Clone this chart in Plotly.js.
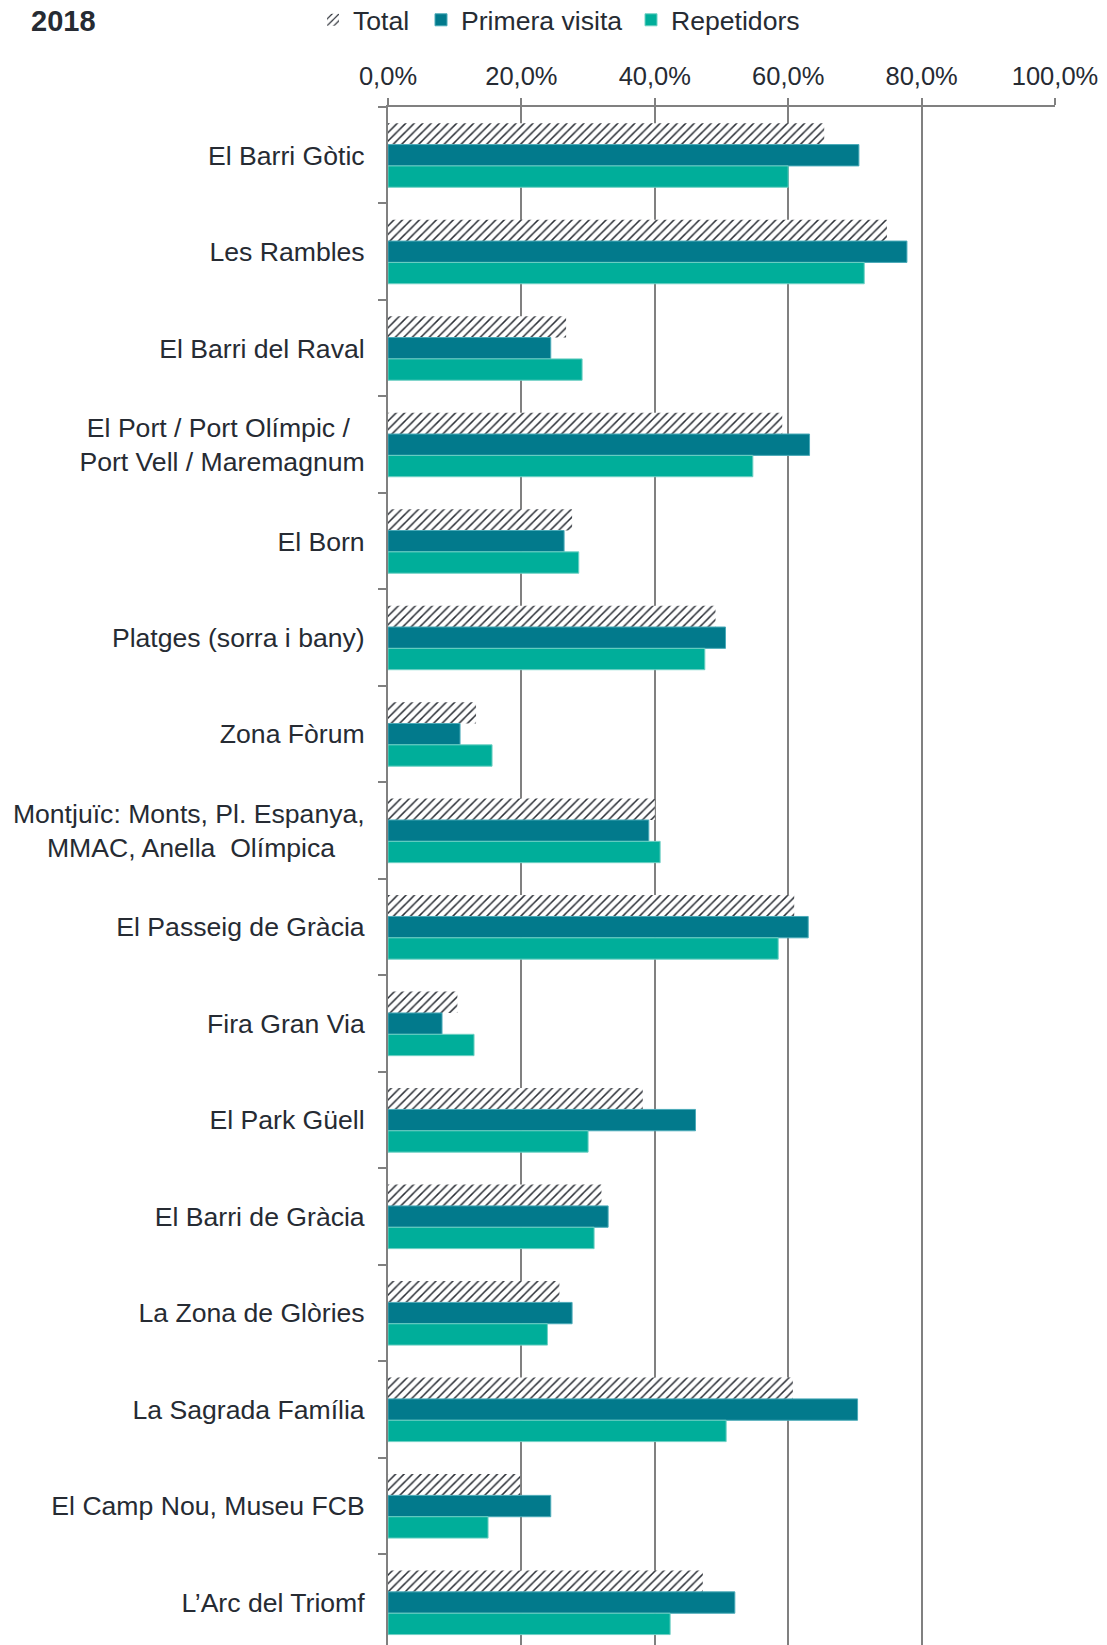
<!DOCTYPE html>
<html>
<head>
<meta charset="utf-8">
<script src="https://cdn.plot.ly/plotly-3.0.1.min.js"></script>
<style>
  html, body { margin: 0; padding: 0; background: #ffffff; }
  #chart { width: 1107px; height: 1645px; }
</style>
</head>
<body>
<div id="chart"></div>
<script>
const categories = [
  "El Barri Gòtic",
  "Les Rambles",
  "El Barri del Raval",
  "El Port / Port Olímpic /\u00a0\u00a0<br>Port Vell / Maremagnum",
  "El Born",
  "Platges (sorra i bany)",
  "Zona Fòrum",
  "Montjuïc: Monts, Pl. Espanya,<br>MMAC, Anella  Olímpica\u00a0\u00a0\u00a0\u00a0",
  "El Passeig de Gràcia",
  "Fira Gran Via",
  "El Park Güell",
  "El Barri de Gràcia",
  "La Zona de Glòries",
  "La Sagrada Família",
  "El Camp Nou, Museu FCB",
  "L’Arc del Triomf"
];
const seriesNames = ["Total", "Primera visita", "Repetidors"];
const totalValues = [65.4, 74.8, 26.7, 59.1, 27.6, 49.1, 13.2, 40.0, 60.9, 10.4, 38.2, 32.0, 25.7, 60.7, 19.8, 47.2];
const primeraValues = [70.6, 77.8, 24.4, 63.2, 26.4, 50.6, 10.8, 39.1, 63.0, 8.1, 46.1, 33.0, 27.6, 70.4, 24.4, 52.0];
const repetidorsValues = [60.0, 71.4, 29.1, 54.7, 28.6, 47.5, 15.6, 40.8, 58.5, 12.9, 30.0, 30.9, 23.9, 50.7, 15.0, 42.3];
const xTickValues = [0, 20, 40, 60, 80, 100];
const xTickLabels = ["0,0%", "20,0%", "40,0%", "60,0%", "80,0%", "100,0%"];
const chartTitle = "2018";

const FONT = "Liberation Sans, Arial, Helvetica, sans-serif";
const TEXT = "#262b33";
const GRID = "#808080";
const W = 1107, H = 1645;

const traces = [
  {
    type: "bar", orientation: "h", name: seriesNames[0], legend: "legend",
    y: categories, x: totalValues,
    marker: {
      color: "#ffffff",
      pattern: { shape: "/", fgcolor: "#2b2f36", bgcolor: "#ffffff", size: 6, solidity: 0.25 },
      line: { width: 0 }
    },
    hoverinfo: "x+name"
  },
  {
    type: "bar", orientation: "h", name: seriesNames[1], legend: "legend2",
    y: categories, x: primeraValues,
    marker: { color: "#027a8c", line: { color: "#4aaab8", width: 1 } },
    hoverinfo: "x+name"
  },
  {
    type: "bar", orientation: "h", name: seriesNames[2], legend: "legend3",
    y: categories, x: repetidorsValues,
    marker: { color: "#00ae9a", line: { color: "#6fd0c4", width: 1 } },
    hoverinfo: "x+name"
  }
];

function legendAt(px) {
  return {
    orientation: "h",
    xref: "container", yref: "container",
    x: px / W, xanchor: "left",
    y: 1 - 20 / H, yanchor: "middle",
    font: { family: FONT, size: 26.6, color: TEXT },
    bgcolor: "rgba(0,0,0,0)",
    borderwidth: 0,
    itemwidth: 30
  };
}

const layout = {
  width: W,
  height: H,
  margin: { l: 388, r: 52, t: 107, b: 0, pad: 0 },
  paper_bgcolor: "#ffffff",
  plot_bgcolor: "#ffffff",
  font: { family: FONT, size: 26, color: TEXT },
  separators: ",.",
  barmode: "group",
  bargap: 0.336,
  bargroupgap: 0,
  showlegend: true,
  title: {
    text: "<b>" + chartTitle + "</b>",
    font: { family: FONT, size: 29, color: TEXT },
    xref: "container", yref: "container",
    x: 31 / W, xanchor: "left",
    y: 1 - 21 / H, yanchor: "middle",
    automargin: false
  },
  legend: legendAt(313),
  legend2: legendAt(421),
  legend3: legendAt(631),
  xaxis: {
    side: "top",
    range: [0, 100],
    tickmode: "array",
    tickvals: xTickValues,
    ticktext: xTickLabels,
    showgrid: true,
    gridcolor: GRID,
    gridwidth: 2,
    zeroline: false,
    showline: true,
    linecolor: GRID,
    linewidth: 2,
    ticks: "outside",
    ticklen: 7,
    tickwidth: 2,
    tickcolor: GRID,
    ticklabelstandoff: 3,
    tickfont: { family: FONT, size: 25.5, color: TEXT },
    fixedrange: true
  },
  yaxis: {
    type: "category",
    range: [15.44, -0.5],
    showgrid: false,
    zeroline: false,
    showline: true,
    linecolor: GRID,
    linewidth: 2,
    ticks: "outside",
    tickson: "boundaries",
    ticklen: 8,
    tickwidth: 2,
    tickcolor: GRID,
    ticklabelstandoff: 16,
    tickfont: { family: FONT, size: 26.6, color: TEXT },
    automargin: false,
    fixedrange: true
  }
};

Plotly.newPlot("chart", traces, layout, { displayModeBar: false, staticPlot: true });
</script>
</body>
</html>
